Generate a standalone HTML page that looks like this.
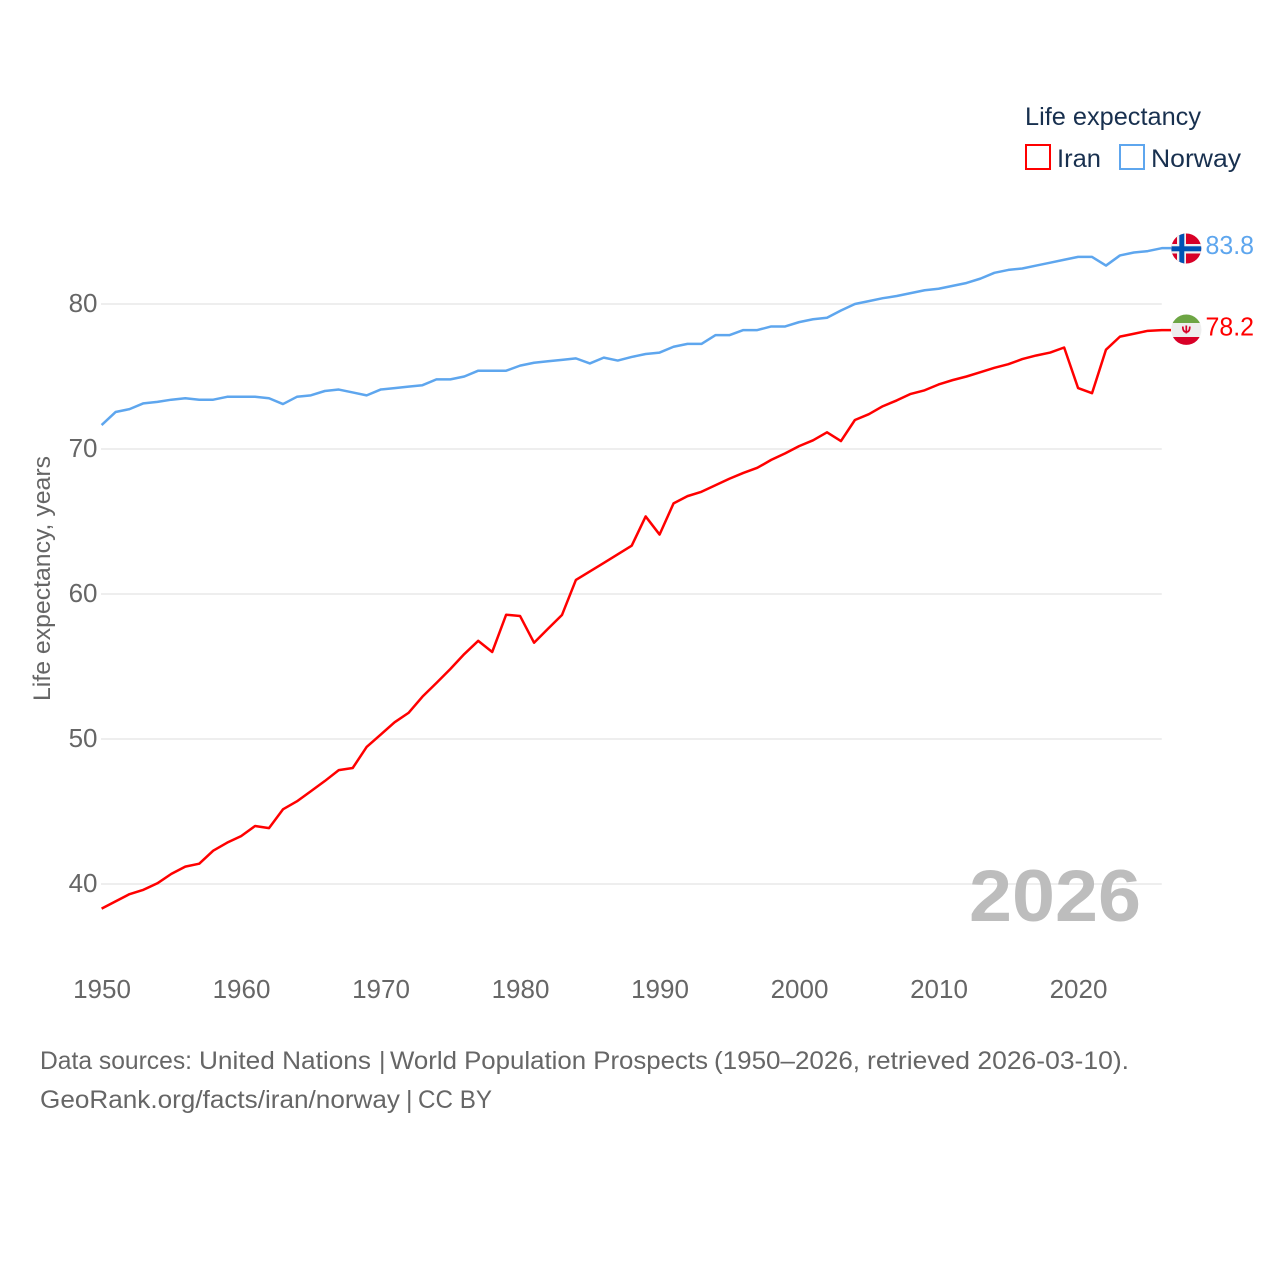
<!DOCTYPE html>
<html>
<head>
<meta charset="utf-8">
<title>Life expectancy: Iran and Norway</title>
<style>
html,body{margin:0;padding:0;background:#fff;}
svg{display:block;}
text{font-family:"Liberation Sans",sans-serif;}
</style>
</head>
<body>
<svg id="chart" xmlns="http://www.w3.org/2000/svg" width="1280" height="1280" viewBox="0 0 1280 1280">
  <rect width="1280" height="1280" fill="#ffffff"/>
  <g id="grid"></g>
  <g id="yticks"></g>
  <g id="xticks"></g>
  <text transform="translate(50,578.5) rotate(-90)" text-anchor="middle" font-size="24" fill="#666666" textLength="245" lengthAdjust="spacingAndGlyphs">Life expectancy, years</text>
  <text x="969" y="921" font-size="73" font-weight="bold" fill="#bdbdbd" textLength="172" lengthAdjust="spacingAndGlyphs">2026</text>
  <path id="line-iran" fill="none" stroke="#ff0000" stroke-width="2.5" stroke-linejoin="round"/>
  <path id="line-norway" fill="none" stroke="#5ea6ee" stroke-width="2.5" stroke-linejoin="round"/>
  <defs>
    <clipPath id="clip-no"><circle cx="1186.3" cy="248.5" r="15"/></clipPath>
    <clipPath id="clip-ir"><circle cx="1186.3" cy="329.7" r="15.2"/></clipPath>
  </defs>
  <g clip-path="url(#clip-no)">
    <rect x="1171" y="233" width="31" height="31" fill="#d80027"/>
    <rect x="1177" y="233" width="9" height="31" fill="#f0f0f0"/>
    <rect x="1171" y="244" width="31" height="9.500" fill="#f0f0f0"/>
    <rect x="1179.300" y="233" width="5" height="31" fill="#0052b4"/>
    <rect x="1171" y="246.300" width="31" height="5" fill="#0052b4"/>
  </g>
  <g clip-path="url(#clip-ir)">
    <rect x="1171" y="314" width="31" height="9.500" fill="#6da544"/>
    <rect x="1171" y="323" width="31" height="14.500" fill="#eeeeee"/>
    <rect x="1171" y="337" width="31" height="9" fill="#d80027"/>
    <path d="M1182.800 326.500c0 4.500 1.700 5.500 3.500 5.500s3.500-1 3.500-5.500M1186.300 325.500v8" fill="none" stroke="#d80027" stroke-width="1.700"/>
  </g>
  <text id="value-norway" x="1205.500" y="254" font-size="26" fill="#5ea6ee" textLength="48.500" lengthAdjust="spacingAndGlyphs"></text>
  <text id="value-iran" x="1205.500" y="335.500" font-size="26" fill="#ff0000" textLength="48.500" lengthAdjust="spacingAndGlyphs"></text>
  <g>
    <text x="1025" y="125" font-size="25" fill="#18304f" textLength="176" lengthAdjust="spacingAndGlyphs">Life expectancy</text>
    <g>
      <rect x="1026" y="145" width="24" height="24" fill="none" stroke="#ff0000" stroke-width="2"/>
      <text x="1057" y="167" font-size="25" fill="#18304f" textLength="44" lengthAdjust="spacingAndGlyphs">Iran</text>
    </g>
    <g>
      <rect x="1120" y="145" width="24" height="24" fill="none" stroke="#5ea6ee" stroke-width="2"/>
      <text x="1151" y="167" font-size="25" fill="#18304f" textLength="90" lengthAdjust="spacingAndGlyphs">Norway</text>
    </g>
  </g>
  <text y="1069" font-size="25" fill="#666666" lengthAdjust="spacingAndGlyphs"><tspan x="40" textLength="152" lengthAdjust="spacingAndGlyphs">Data sources:</tspan> <tspan x="199" textLength="172" lengthAdjust="spacingAndGlyphs">United Nations</tspan> <tspan x="379">|</tspan> <tspan x="390" textLength="318" lengthAdjust="spacingAndGlyphs">World Population Prospects</tspan> <tspan x="714" textLength="146" lengthAdjust="spacingAndGlyphs">(1950–2026,</tspan> <tspan x="867" textLength="262" lengthAdjust="spacingAndGlyphs">retrieved 2026-03-10).</tspan></text>
  <text y="1108" font-size="25" fill="#666666"><tspan x="40" textLength="360" lengthAdjust="spacingAndGlyphs">GeoRank.org/facts/iran/norway</tspan> <tspan x="406">|</tspan> <tspan x="418" textLength="74" lengthAdjust="spacingAndGlyphs">CC BY</tspan></text>
</svg>
<script>
var startYear = 1950;
var xTickYears = [1950, 1960, 1970, 1980, 1990, 2000, 2010, 2020];
var yTickValues = [40, 50, 60, 70, 80];
var iranValues = [38.3,38.8,39.3,39.6,40.05,40.7,41.2,41.4,42.3,42.85,43.3,44.0,43.85,45.15,45.7,46.4,47.1,47.85,48.0,49.45,50.3,51.15,51.8,52.92,53.86,54.83,55.86,56.77,56.0,58.57,58.48,56.64,57.6,58.55,60.97,61.56,62.14,62.74,63.33,65.35,64.1,66.25,66.75,67.05,67.5,67.95,68.35,68.7,69.25,69.7,70.2,70.6,71.15,70.55,72.0,72.4,72.95,73.35,73.8,74.05,74.45,74.75,75.0,75.3,75.6,75.85,76.2,76.45,76.65,77.0,74.2,73.85,76.85,77.75,77.95,78.15,78.2];
var norwayValues = [71.65,72.55,72.75,73.15,73.25,73.4,73.5,73.4,73.4,73.6,73.6,73.6,73.5,73.1,73.6,73.7,74.0,74.1,73.9,73.7,74.1,74.2,74.3,74.4,74.8,74.8,75.0,75.4,75.4,75.4,75.75,75.95,76.05,76.15,76.25,75.9,76.3,76.1,76.35,76.55,76.65,77.05,77.25,77.25,77.85,77.85,78.2,78.2,78.45,78.45,78.75,78.95,79.05,79.55,80.0,80.2,80.4,80.55,80.75,80.95,81.05,81.25,81.45,81.75,82.15,82.35,82.45,82.65,82.85,83.05,83.25,83.25,82.65,83.35,83.55,83.65,83.85];

var NS = 'http://www.w3.org/2000/svg';
function xScale(year) { return 101.6 + (year - 1950) * 13.95; }
function yScale(value) { return 304 + (80 - value) * 14.5; }

function linePath(values) {
  var d = '';
  for (var i = 0; i < values.length; i++) {
    d += (i ? 'L' : 'M') + xScale(startYear + i).toFixed(2) + ' ' + yScale(values[i]).toFixed(2);
  }
  return d;
}

var lastYear = startYear + iranValues.length - 1;
document.getElementById('line-iran').setAttribute('d', linePath(iranValues) + 'L1171 ' + yScale(iranValues[iranValues.length - 1]).toFixed(2));
document.getElementById('line-norway').setAttribute('d', linePath(norwayValues) + 'L1171 ' + yScale(norwayValues[norwayValues.length - 1]).toFixed(2));
document.getElementById('value-iran').textContent = iranValues[iranValues.length - 1].toFixed(1);
document.getElementById('value-norway').textContent = norwayValues[norwayValues.length - 1].toFixed(1);

var grid = document.getElementById('grid');
var yticks = document.getElementById('yticks');
yTickValues.forEach(function (v) {
  var line = document.createElementNS(NS, 'line');
  
  
  line.setAttribute('x1', 101);
  line.setAttribute('x2', xScale(lastYear));
  line.setAttribute('y1', yScale(v));
  line.setAttribute('y2', yScale(v));
  line.setAttribute('stroke', '#eeeeee');
  line.setAttribute('stroke-width', '2');
  grid.appendChild(line);

  var t = document.createElementNS(NS, 'text');
  
  
  t.setAttribute('x', 97.5);
  t.setAttribute('y', yScale(v) + 8);
  t.setAttribute('text-anchor', 'end');
  t.setAttribute('font-size', '26');
  t.setAttribute('fill', '#666666');
  t.textContent = String(v);
  yticks.appendChild(t);
});

var xticks = document.getElementById('xticks');
xTickYears.forEach(function (y) {
  var t = document.createElementNS(NS, 'text');
  
  
  t.setAttribute('x', xScale(y) + 0.4);
  t.setAttribute('y', 998);
  t.setAttribute('text-anchor', 'middle');
  t.setAttribute('font-size', '26');
  t.setAttribute('fill', '#666666');
  t.textContent = String(y);
  xticks.appendChild(t);
});
</script>
</body>
</html>
